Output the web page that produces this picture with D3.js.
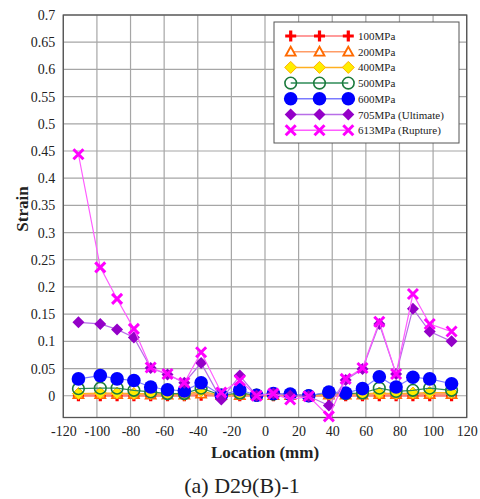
<!DOCTYPE html>
<html>
<head>
<meta charset="utf-8">
<script src="https://cdn.jsdelivr.net/npm/d3@7"></script>
<style>
  body { margin: 0; background: #fff; }
  svg text { font-family: "Liberation Serif", "Times New Roman", "DejaVu Serif", serif; }
</style>
</head>
<body>
<div id="chart"></div>
<script>
// locations of the gauges (mm)
var locations = [-111, -98, -88, -78, -68, -58, -48, -38, -26, -15, -5, 5, 15, 26, 38, 48, 58, 68, 78, 88, 98, 111];

var strain100 = [0, 0, 0, 0, 0, 0, 0, 0.001, 0, 0, 0, 0, 0, 0, 0, 0, 0, 0, 0, 0, 0, 0];
var strain200 = [0.003, 0.003, 0.003, 0.003, 0.002, 0.002, 0.002, 0.004, 0.001, 0.001, 0.001, 0.001, 0.001, 0, 0.002, 0.002, 0.002, 0.003, 0.003, 0.003, 0.003, 0.003];
var strain400 = [0.004, 0.005, 0.005, 0.004, 0.004, 0.003, 0.002, 0.009, 0, 0.003, 0.001, 0.002, 0.001, 0, 0.003, 0.003, 0.004, 0.005, 0.004, 0.005, 0.006, 0.006];
var strain500 = [0.013, 0.014, 0.014, 0.010, 0.007, 0.004, 0.004, 0.014, 0.001, 0.005, 0.001, 0.003, 0.002, 0, 0.006, 0.004, 0.005, 0.014, 0.008, 0.010, 0.014, 0.010];
var strain600 = [0.031, 0.037, 0.031, 0.028, 0.016, 0.011, 0.009, 0.024, 0.001, 0.011, 0.001, 0.004, 0.003, 0, 0.007, 0.005, 0.013, 0.035, 0.016, 0.034, 0.031, 0.022];
var strain705 = [0.135, 0.132, 0.122, 0.107, 0.051, 0.039, 0.024, 0.060, -0.007, 0.037, 0, 0.004, 0, -0.001, -0.018, 0.029, 0.049, 0.132, 0.040, 0.160, 0.118, 0.100];
var strain613 = [0.444, 0.236, 0.178, 0.123, 0.052, 0.040, 0.024, 0.080, 0.006, 0.028, 0, 0.004, -0.007, -0.001, -0.038, 0.031, 0.051, 0.136, 0.040, 0.187, 0.132, 0.118];

var seriesNames = ["100MPa", "200MPa", "400MPa", "500MPa", "600MPa", "705MPa (Ultimate)", "613MPa (Rupture)"];
var xTicks = [-120, -100, -80, -60, -40, -20, 0, 20, 40, 60, 80, 100, 120];
var yTicks = [0, 0.05, 0.1, 0.15, 0.2, 0.25, 0.3, 0.35, 0.4, 0.45, 0.5, 0.55, 0.6, 0.65, 0.7];

var series = [
  { name: seriesNames[0], values: strain100, line: "#ff7a7a", marker: "plus" },
  { name: seriesNames[1], values: strain200, line: "#ff9c66", marker: "triangle" },
  { name: seriesNames[2], values: strain400, line: "#ffb020", marker: "diamondYellow" },
  { name: seriesNames[3], values: strain500, line: "#2e8b57", marker: "circleOpen" },
  { name: seriesNames[4], values: strain600, line: "#7a7aff", marker: "circleBlue" },
  { name: seriesNames[5], values: strain705, line: "#b86ee8", marker: "diamondPurple" },
  { name: seriesNames[6], values: strain613, line: "#ff5cff", marker: "cross" }
];

var serif = "'Liberation Serif', 'Times New Roman', 'DejaVu Serif', serif";
var width = 480, height = 499;
var margin = { left: 63.3, right: 13.3, top: 15, bottom: 81.5 };

var svg = d3.select("#chart").append("svg")
  .attr("width", width)
  .attr("height", height);

svg.append("rect").attr("width", width).attr("height", height).attr("fill", "#fff");

var x = d3.scaleLinear().domain([-120, 120]).range([margin.left, width - margin.right]);
var y = d3.scaleLinear().domain([-0.04, 0.7]).range([height - margin.bottom, margin.top]);

// grid
var grid = svg.append("g");
grid.selectAll("line.v").data(xTicks).enter().append("line")
  .attr("x1", function (d) { return x(d); }).attr("x2", function (d) { return x(d); })
  .attr("y1", y(-0.04)).attr("y2", y(0.7))
  .attr("stroke", "#a6a6a6").attr("stroke-width", 1.2);
grid.selectAll("line.h").data(yTicks).enter().append("line")
  .attr("x1", x(-120)).attr("x2", x(120))
  .attr("y1", function (d) { return y(d); }).attr("y2", function (d) { return y(d); })
  .attr("stroke", "#a6a6a6").attr("stroke-width", 1.2);

// frame
svg.append("rect")
  .attr("x", x(-120)).attr("y", y(0.7))
  .attr("width", x(120) - x(-120)).attr("height", y(-0.04) - y(0.7))
  .attr("fill", "none").attr("stroke", "#555").attr("stroke-width", 1.3);

// axes (hyphen minus like the original)
var xAxis = d3.axisBottom(x).tickValues(xTicks).tickSize(0).tickPadding(9)
  .tickFormat(function (d) { return String(d); });
svg.append("g").attr("transform", "translate(0," + y(-0.04) + ")").call(xAxis)
  .attr("font-family", serif)
  .call(function (g) { g.select(".domain").remove(); })
  .selectAll("text").attr("font-size", "14px").attr("fill", "#222");

var yAxis = d3.axisLeft(y).tickValues(yTicks).tickSize(0).tickPadding(8)
  .tickFormat(function (d) { return String(+d.toFixed(2)); });
svg.append("g").attr("transform", "translate(" + x(-120) + ",0)").call(yAxis)
  .attr("font-family", serif)
  .call(function (g) { g.select(".domain").remove(); })
  .selectAll("text").attr("font-size", "14px").attr("fill", "#222");

// titles
svg.append("text").attr("x", 265).attr("y", 458).attr("text-anchor", "middle").attr("font-family", serif)
  .attr("font-size", "17px").attr("font-weight", "bold").attr("fill", "#222").text("Location (mm)");
svg.append("text").attr("transform", "translate(28,209) rotate(-90)").attr("text-anchor", "middle").attr("font-family", serif)
  .attr("font-size", "17px").attr("font-weight", "bold").attr("fill", "#222").text("Strain");
svg.append("text").attr("x", 242).attr("y", 493).attr("text-anchor", "middle").attr("font-family", serif)
  .attr("font-size", "22px").attr("fill", "#222").text("(a) D29(B)-1");

// markers
function drawMarker(g, type, cx, cy) {
  if (type == "plus") {
    g.append("path").attr("d", "M" + (cx - 5.5) + "," + cy + "H" + (cx + 5.5) + "M" + cx + "," + (cy - 5.5) + "V" + (cy + 5.5))
      .attr("stroke", "#ff0000").attr("stroke-width", 3.2).attr("fill", "none");
  } else if (type == "triangle") {
    g.append("path").attr("d", "M" + cx + "," + (cy - 5) + "L" + (cx + 5) + "," + (cy + 4) + "L" + (cx - 5) + "," + (cy + 4) + "Z")
      .attr("stroke", "#ff6a00").attr("stroke-width", 1.8).attr("fill", "#fff");
  } else if (type == "diamondYellow") {
    g.append("path").attr("d", "M" + cx + "," + (cy - 6) + "L" + (cx + 6) + "," + cy + "L" + cx + "," + (cy + 6) + "L" + (cx - 6) + "," + cy + "Z")
      .attr("stroke", "#ffb000").attr("stroke-width", 1).attr("fill", "#ffee00");
  } else if (type == "circleOpen") {
    g.append("circle").attr("cx", cx).attr("cy", cy).attr("r", 5.8)
      .attr("stroke", "#1b7a3c").attr("stroke-width", 1.6).attr("fill", "none");
  } else if (type == "circleBlue") {
    g.append("circle").attr("cx", cx).attr("cy", cy).attr("r", 6.8).attr("fill", "#0000ff");
  } else if (type == "diamondPurple") {
    g.append("path").attr("d", "M" + cx + "," + (cy - 6) + "L" + (cx + 6) + "," + cy + "L" + cx + "," + (cy + 6) + "L" + (cx - 6) + "," + cy + "Z")
      .attr("fill", "#9400c8");
  } else if (type == "cross") {
    g.append("path").attr("d", "M" + (cx - 5) + "," + (cy - 5) + "L" + (cx + 5) + "," + (cy + 5) + "M" + (cx + 5) + "," + (cy - 5) + "L" + (cx - 5) + "," + (cy + 5))
      .attr("stroke", "#ff00ff").attr("stroke-width", 3).attr("fill", "none");
  }
}

var line = d3.line()
  .x(function (d, i) { return x(locations[i]); })
  .y(function (d) { return y(d); });

series.forEach(function (s) {
  var g = svg.append("g");
  g.append("path").datum(s.values).attr("d", line)
    .attr("fill", "none").attr("stroke", s.line).attr("stroke-width", s.marker == "triangle" || s.marker == "plus" ? 2 : 1.2);
  s.values.forEach(function (v, i) {
    drawMarker(g, s.marker, x(locations[i]), y(v));
  });
});

// legend
var legend = svg.append("g");
legend.append("rect").attr("x", 274).attr("y", 22).attr("width", 185).attr("height", 121)
  .attr("fill", "#fff").attr("stroke", "#555").attr("stroke-width", 1);
series.forEach(function (s, i) {
  var ly = 36 + i * 15.7;
  legend.append("line").attr("x1", 290.7).attr("x2", 348.3).attr("y1", ly).attr("y2", ly)
    .attr("stroke", s.line).attr("stroke-width", 1.5);
  [290.7, 319.5, 348.3].forEach(function (mx) { drawMarker(legend, s.marker, mx, ly); });
  legend.append("text").attr("x", 358).attr("y", ly + 4).attr("font-family", serif)
    .attr("font-size", "11px").attr("fill", "#222").text(s.name);
});
</script>
</body>
</html>
